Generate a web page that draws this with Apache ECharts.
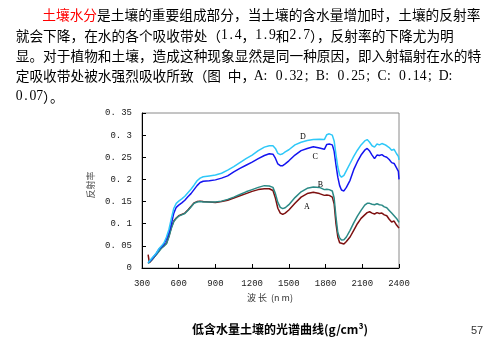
<!DOCTYPE html>
<html>
<head>
<meta charset="utf-8">
<script src="https://cdn.jsdelivr.net/npm/echarts@6/dist/echarts.min.js"></script>
<style>
html,body{margin:0;padding:0;background:#fff;}
#c{width:489px;height:337px;}
</style>
</head>
<body>
<div id="c"></div>
<script>
// ---- data ----
const wavelengths = [350,360,380,400,420,440,460,480,500,520,540,560,580,600,625,650,675,700,725,750,775,800,850,900,950,1000,1050,1100,1150,1200,1250,1300,1340,1370,1390,1410,1430,1450,1470,1500,1550,1600,1650,1700,1750,1790,1810,1830,1855,1870,1885,1900,1915,1930,1950,1970,2000,2030,2060,2090,2120,2140,2160,2180,2200,2220,2240,2260,2280,2300,2320,2340,2360,2380,2395,2400];
const seriesA = [0.030,0.012,0.018,0.025,0.032,0.040,0.046,0.050,0.056,0.072,0.092,0.106,0.113,0.118,0.121,0.124,0.131,0.139,0.147,0.150,0.151,0.150,0.149,0.148,0.150,0.153,0.158,0.163,0.168,0.173,0.177,0.179,0.179,0.175,0.158,0.135,0.124,0.121,0.124,0.131,0.146,0.160,0.168,0.171,0.168,0.164,0.165,0.164,0.160,0.145,0.100,0.070,0.057,0.053,0.054,0.060,0.070,0.085,0.100,0.112,0.120,0.125,0.127,0.124,0.122,0.125,0.123,0.124,0.120,0.118,0.110,0.104,0.106,0.097,0.094,0.090];
const seriesB = [0.010,0.013,0.018,0.025,0.031,0.038,0.045,0.050,0.055,0.070,0.090,0.105,0.112,0.117,0.120,0.123,0.130,0.138,0.146,0.149,0.150,0.149,0.149,0.149,0.151,0.155,0.160,0.166,0.172,0.177,0.182,0.186,0.185,0.182,0.168,0.148,0.137,0.134,0.136,0.143,0.159,0.172,0.180,0.183,0.182,0.177,0.178,0.177,0.174,0.158,0.115,0.080,0.068,0.063,0.064,0.070,0.085,0.102,0.117,0.130,0.142,0.146,0.146,0.144,0.143,0.145,0.143,0.142,0.138,0.136,0.130,0.124,0.118,0.112,0.110,0.103];
const seriesC = [0.012,0.015,0.020,0.027,0.034,0.043,0.048,0.054,0.065,0.080,0.100,0.124,0.137,0.142,0.147,0.153,0.161,0.168,0.177,0.186,0.193,0.196,0.197,0.199,0.203,0.208,0.217,0.225,0.232,0.239,0.247,0.254,0.258,0.257,0.248,0.235,0.231,0.231,0.235,0.242,0.255,0.265,0.270,0.274,0.271,0.268,0.279,0.280,0.278,0.264,0.233,0.205,0.186,0.176,0.174,0.182,0.198,0.222,0.240,0.255,0.266,0.270,0.264,0.255,0.247,0.255,0.254,0.256,0.252,0.250,0.245,0.238,0.236,0.226,0.218,0.200];
const seriesD = [0.012,0.015,0.022,0.028,0.035,0.044,0.050,0.057,0.070,0.087,0.112,0.135,0.146,0.151,0.156,0.162,0.170,0.178,0.187,0.197,0.203,0.206,0.208,0.210,0.214,0.221,0.229,0.238,0.247,0.255,0.265,0.273,0.276,0.276,0.270,0.259,0.256,0.258,0.262,0.267,0.278,0.284,0.288,0.290,0.291,0.290,0.301,0.303,0.300,0.287,0.256,0.228,0.210,0.205,0.209,0.220,0.236,0.252,0.266,0.278,0.287,0.290,0.284,0.276,0.273,0.280,0.278,0.281,0.279,0.276,0.272,0.266,0.268,0.258,0.252,0.244];
const seriesNames = ['A','B','C','D'];
const yTicks = {min:0, max:0.35, step:0.05};
const xTicks = {min:300, max:2400, step:300};

const headLines = [
  '是土壤的重要组成部分，当土壤的含水量增加时，土壤的反射率',
  '就会下降，在水的各个吸收带处（1.4，1.9和2.7），反射率的下降尤为明',
  '显。对于植物和土壤，造成这种现象显然是同一种原因，即入射辐射在水的特',
  '定吸收带处被水强烈吸收所致（图 中，A: 0.32; B: 0.25; C: 0.14; D:',
  '0.07）。'
];
const headRed = '土壤水分';
const caption = '低含水量土壤的光谱曲线(g/cm³)';
const pageNo = '57';
const xName = '波 长  (n m)';
const yName = '反射率';

// ---- chart ----
const chart = echarts.init(document.getElementById('c'), null, {renderer:'canvas'});
const colors = ['#7d1010','#2b8a86','#1414f0','#2ec8f8'];
const allSeries = [seriesA, seriesB, seriesC, seriesD];
const labelAt = {A:[1648,0.138], B:[1757,0.187], C:[1716,0.250], D:[1615,0.296]};
const cjk = '"Noto Sans CJK SC", sans-serif';
const fs = 13.7, lh = 20.4, y0 = 15;

// ASCII characters are set half-width (one token per char), CJK runs as-is
function richify(s){
  let out = '', cur = '';
  for (const ch of s){
    if (ch.charCodeAt(0) < 128){
      if (cur){ out += '{h|' + cur + '}'; cur = ''; }
      out += '{a|' + ch + '}';
    } else cur += ch;
  }
  if (cur) out += '{h|' + cur + '}';
  return out;
}
const rich = {
  a:{fontFamily:'"Liberation Serif", serif', fontSize:fs, fill:'#000', lineHeight:18, width:fs/2, align:'center'},
  h:{fontFamily:cjk, fontSize:fs, fill:'#000', lineHeight:18}
};

const graphics = [];
graphics.push({type:'text', x:42.3, y:y0, style:{text:headRed, fontSize:fs, fontFamily:cjk, fill:'#ff0000', verticalAlign:'middle'}});
graphics.push({type:'text', x:42.3+4*fs, y:y0, style:{text:headLines[0], fontSize:fs, fontFamily:cjk, fill:'#000', verticalAlign:'middle'}});
for (let i=1;i<headLines.length;i++){
  graphics.push({type:'text', x:15.7, y:y0+i*lh, style:{text:richify(headLines[i]), rich:rich, fontSize:fs, fontFamily:cjk, fill:'#000', verticalAlign:'middle'}});
}
graphics.push({type:'text', x:280, y:329, style:{text:caption, fontSize:12, fontFamily:cjk, fill:'#000', align:'center', verticalAlign:'middle', fontWeight:'bold'}});
graphics.push({type:'text', x:477, y:331, style:{text:pageNo, fontSize:11, fontFamily:'"Liberation Sans", sans-serif', fill:'#333', align:'center', verticalAlign:'middle'}});
graphics.push({type:'text', x:270, y:298, style:{text:xName, fontSize:9, fontFamily:cjk, fill:'#333', align:'center', verticalAlign:'middle'}});
graphics.push({type:'text', x:91, y:185, rotation:Math.PI/2, style:{text:yName, fontSize:9, fontFamily:cjk, fill:'#555', align:'center', verticalAlign:'middle'}});

const option = {
  animation:false,
  backgroundColor:'#fff',
  grid:{left:142, top:113, width:257, height:155, show:true, borderColor:'#8a8a8a', borderWidth:1, containLabel:false, outerBoundsMode:'none'},
  xAxis:{
    type:'value', min:xTicks.min, max:xTicks.max, interval:xTicks.step,
    axisLine:{show:true, onZero:false, lineStyle:{color:'#000', width:1}},
    axisTick:{show:true, inside:true, length:4, lineStyle:{color:'#000'}},
    axisLabel:{fontFamily:'"Liberation Mono", monospace', fontSize:9, color:'#1a1a1a', margin:11,
      formatter:function(v){ return String(Math.round(v)); }},
    splitLine:{show:false}
  },
  yAxis:{
    type:'value', min:yTicks.min, max:yTicks.max, interval:yTicks.step,
    axisLine:{show:true, lineStyle:{color:'#000', width:1}},
    axisTick:{show:true, inside:true, length:4, lineStyle:{color:'#000'}},
    axisLabel:{fontFamily:'"Liberation Mono", monospace', fontSize:9, color:'#1a1a1a', margin:10,
      formatter:function(v){ if (Math.abs(v)<1e-9) return '0'; let s=(+v.toFixed(2)).toString(); return s.replace('.', '. '); }},
    splitLine:{show:false}
  },
  series: allSeries.map(function(arr, k){
    const name = seriesNames[k];
    return {
      name:name, type:'line', showSymbol:false, symbol:'none',
      lineStyle:{color:colors[k], width:1.5},
      data: wavelengths.map(function(w,i){ return [w, arr[i]]; }),
      markPoint:{
        symbol:'circle', symbolSize:0, silent:true,
        label:{show:true, position:'inside', formatter:name, color:'#000', fontSize:8, fontFamily:'"Liberation Serif", serif'},
        data:[{coord:labelAt[name]}]
      }
    };
  }),
  graphic: graphics
};
chart.setOption(option);
</script>
</body>
</html>
